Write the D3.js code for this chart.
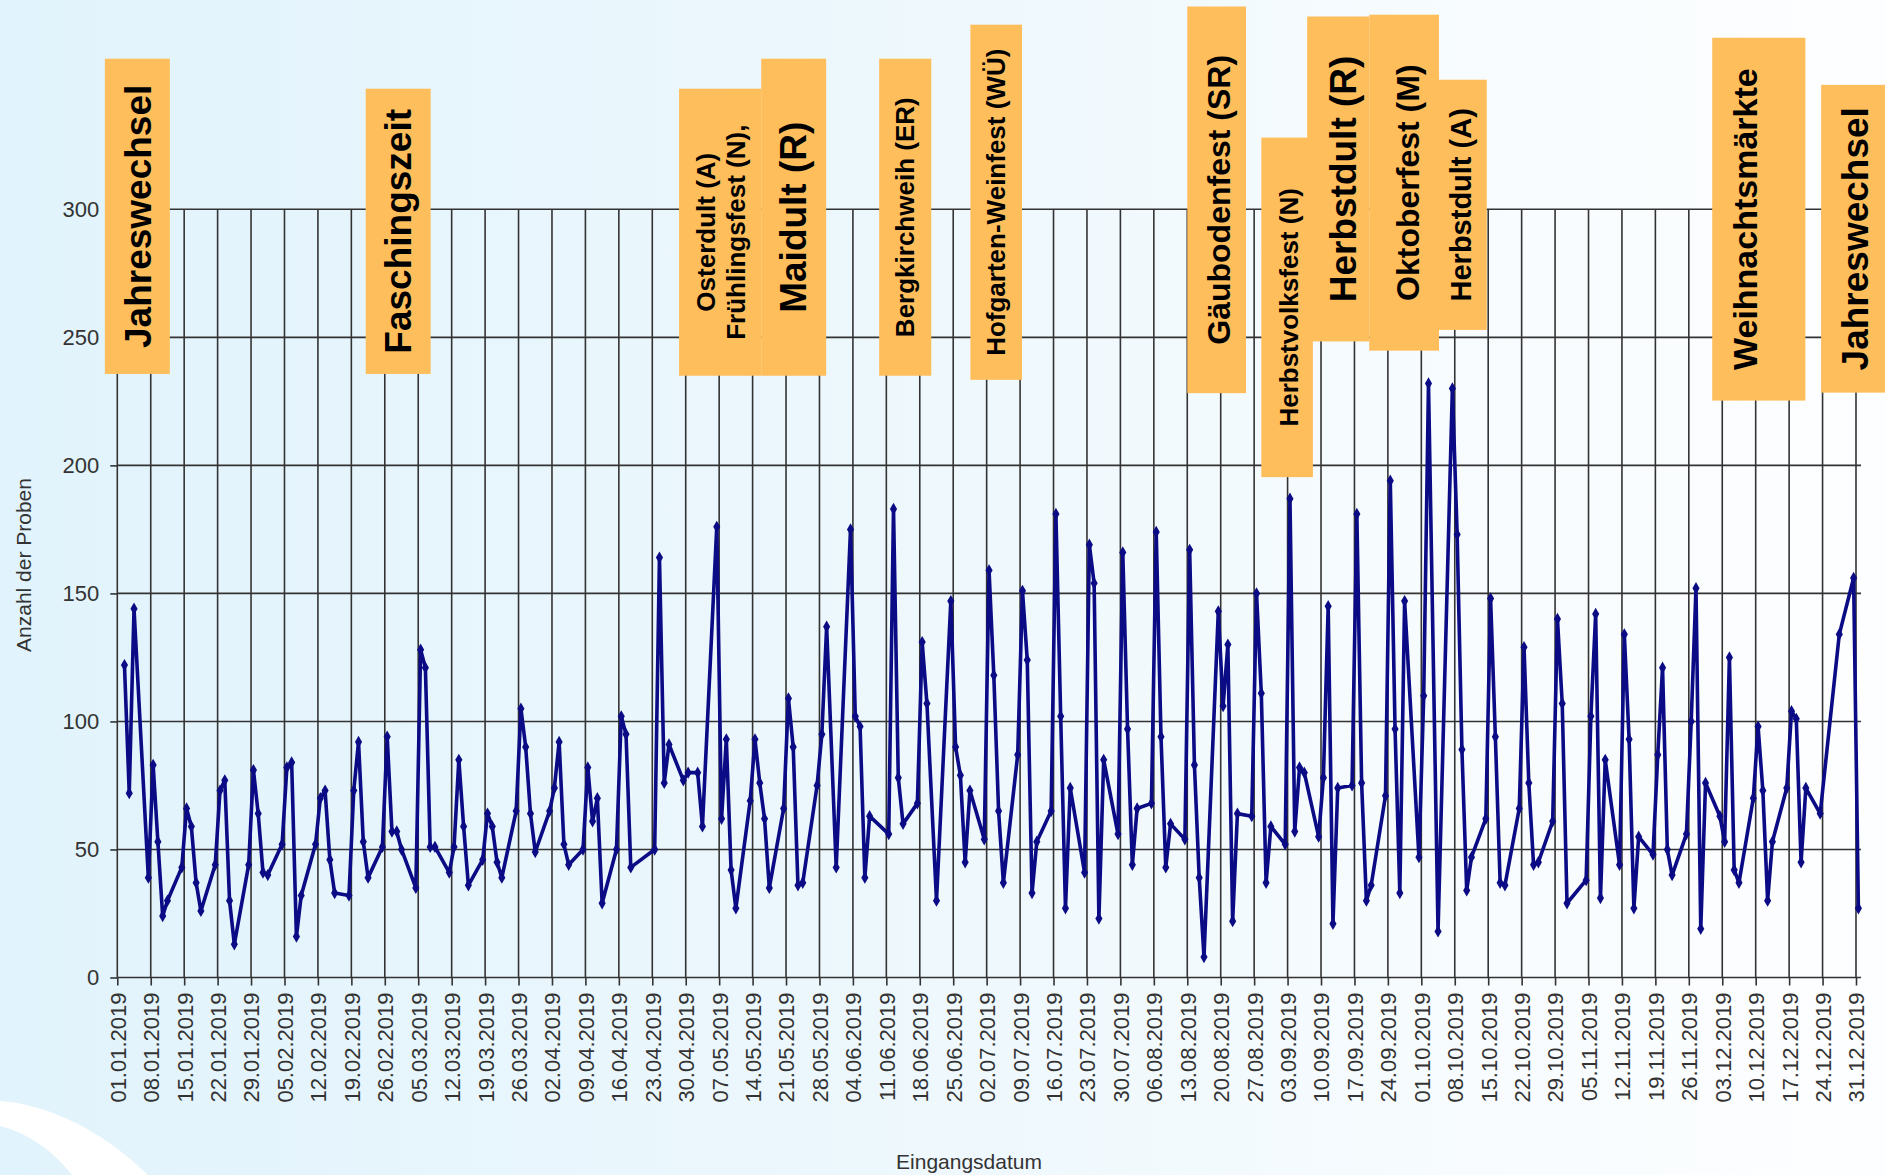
<!DOCTYPE html>
<html><head><meta charset="utf-8">
<script src="https://cdn.jsdelivr.net/npm/d3@7"></script>
<style>body{margin:0;background:#fff;} svg{display:block;}</style>
</head><body>
<svg id="chart" width="1885" height="1175"></svg>
<script>
// ---------- DATA ----------
const yearStart = "2019-01-01";
const yearEnd = "2019-12-31";
// working days without samples (public holidays)
const holidays = ["2019-01-01","2019-04-19","2019-04-22","2019-05-01","2019-05-30","2019-06-10",
  "2019-06-20","2019-10-03","2019-11-01","2019-12-24","2019-12-25","2019-12-26"];
// Anzahl der Proben per working day (week by week)
const counts = [
  122, 72, 144,
  39, 83, 53, 24, 30,
  43, 66, 59, 37, 26,
  44, 73, 77, 30, 13,
  44, 81, 64, 41, 40,
  52, 82, 84, 16, 32,
  52, 70, 73, 46, 33,
  32, 73, 92, 53, 39,
  51, 94, 57, 57, 50,
  35, 128, 121, 51, 51,
  41, 51, 85, 59, 36,
  46, 64, 59, 45, 39,
  65, 105, 90, 64, 49,
  65, 74, 92, 52, 44,
  50, 82, 61, 70, 29,
  50, 102, 95, 43,
  50, 164, 76, 91,
  77, 80, 80, 59,
  176, 62, 93, 42, 27,
  69, 93, 76, 62, 35,
  66, 109, 90, 36, 37,
  75, 95, 137, 43,
  175, 102, 98, 39, 63,
  56, 183, 78, 60,
  68, 131, 107, 30,
  147, 90, 79, 45, 73,
  54, 159, 118, 65, 37,
  87, 151, 124, 33, 53,
  65, 181, 102, 27, 74,
  41, 169, 154, 23, 85,
  56, 166, 97, 44, 66,
  68, 174, 94, 43, 60,
  54, 167, 83, 39, 8,
  143, 106, 130, 22, 64,
  63, 150, 111, 37, 59,
  52, 187, 57, 82, 80,
  55, 78, 145, 21, 74,
  75, 181, 76, 30, 36,
  71, 194, 97, 33, 147,
  47, 110, 232, 18,
  230, 173, 89, 34, 47,
  62, 148, 94, 37, 36,
  66, 129, 76, 44, 45,
  61, 140, 107, 29,
  38, 102, 142, 31, 85,
  44, 134, 93, 27, 55,
  48, 87, 121, 50, 40,
  56, 100, 152, 19, 76,
  63, 53, 125, 42, 37,
  70, 98, 73, 30, 53,
  74, 104, 101, 45, 74,
  64, 134,
  156, 27
];
const yTicks = [0, 50, 100, 150, 200, 250, 300];

// event annotations (extent in days since 01.01.2019 and in sample counts)
const eventLabels = ["Jahreswechsel", "Faschingszeit", "Osterdult (A)\nFrühlingsfest (N),", "Maidult (R)",
  "Bergkirchweih (ER)", "Hofgarten-Weinfest (WÜ)", "Gäubodenfest (SR)", "Herbstvolksfest (N)",
  "Herbstdult (R)", "Oktoberfest (M)", "Herbstdult (A)", "Weihnachtsmärkte", "Jahreswechsel"];
const eventFromDay = [-2.6, 52.0, 117.6, 134.8, 159.5, 178.6, 224.0, 239.5, 249.1, 262.1, 276.7, 333.9, 356.7];
const eventToDay   = [11.0, 65.6, 134.8, 148.4, 170.4, 189.4, 236.3, 250.3, 262.1, 276.7, 286.7, 353.4, 370.1];
const eventTop     = [358.8, 347.1, 347.1, 358.8, 358.8, 372.1, 379.2, 328.0, 375.3, 376.0, 350.6, 367.0, 348.6];
const eventBottom  = [235.7, 235.7, 235.0, 235.0, 235.0, 233.4, 228.2, 195.4, 248.4, 244.8, 252.9, 225.3, 228.4];

// ---------- STYLE ----------
const eventFontSize = [37, 37, 26, 37, 26, 26, 32, 26, 37, 32, 29, 34, 37];
const eventTextShift = [1.5, 0, 0.5, 0, 0, 0, 2.5, 2, 5, 4, -1.5, -13.5, 2];
const FONT = "'Liberation Sans', Arial, Helvetica, sans-serif";

// ---------- BUILD ----------
const parse = d3.timeParse("%Y-%m-%d");
const fmt = d3.timeFormat("%Y-%m-%d");
const start = parse(yearStart), end = parse(yearEnd);
const hol = new Set(holidays);
const workDays = d3.timeDay.range(start, d3.timeDay.offset(end, 1))
  .filter(d => d.getDay() !== 0 && d.getDay() !== 6 && !hol.has(fmt(d)));
const data = workDays.map((d, i) => ({date: d, v: counts[i]}));

const svg = d3.select("#chart");
const W = 1885, H = 1175;

// background
const defs = svg.append("defs");
const g0 = defs.append("linearGradient").attr("id", "bg").attr("x1", 0).attr("x2", 1).attr("y1", 0).attr("y2", 0);
[["0", "#e1f3fc"], ["0.5", "#eef8fd"], ["0.8", "#f8fcfe"], ["1", "#fdfeff"]]
  .forEach(([o, c]) => g0.append("stop").attr("offset", o).attr("stop-color", c));
svg.append("rect").attr("width", W).attr("height", H).attr("fill", "url(#bg)");
svg.append("path")
  .attr("d", "M0,1101 C45,1104 100,1128 148,1175 L72,1175 C52,1150 28,1133 0,1126 Z")
  .attr("fill", "#ffffff");

const x = d3.scaleTime().domain([start, end]).range([117.3, 1856]);
const y = d3.scaleLinear().domain([0, 300]).range([977.5, 209.3]);
const mid = d => d3.timeHour.offset(d, 12);
const dayAt = n => new Date(+start + n * 864e5);

const weeks = d3.timeTuesday.range(start, d3.timeDay.offset(end, 1));

// grid
const grid = svg.append("g").attr("stroke", "#333").attr("stroke-width", 1.6);
grid.selectAll("line.h").data(yTicks).join("line")
  .attr("x1", x(start)).attr("x2", x(end) + 5)
  .attr("y1", d => y(d)).attr("y2", d => y(d));
grid.selectAll("line.v").data(weeks).join("line")
  .attr("x1", d => x(d)).attr("x2", d => x(d))
  .attr("y1", y(0)).attr("y2", y(300));

// axes
const xAxis = svg.append("g").attr("transform", `translate(0,${y(0)})`)
  .call(d3.axisBottom(x).tickValues(weeks).tickFormat(d3.timeFormat("%d.%m.%Y")).tickSize(8));
xAxis.select(".domain").remove();
xAxis.selectAll(".tick line").attr("stroke", "#333").attr("stroke-width", 1.6);
xAxis.selectAll(".tick text")
  .attr("transform", "rotate(-90)").attr("x", -15).attr("y", 0).attr("dy", "0.36em")
  .style("text-anchor", "end").style("font-family", FONT).style("font-size", "22px").attr("fill", "#333");

const yAxis = svg.append("g").attr("transform", `translate(${x(start)},0)`)
  .call(d3.axisLeft(y).tickValues(yTicks).tickSize(7).tickPadding(11));
yAxis.select(".domain").remove();
yAxis.selectAll(".tick line").attr("stroke", "#333").attr("stroke-width", 1.6);
yAxis.selectAll(".tick text").style("font-family", FONT).style("font-size", "22px").attr("fill", "#333");

// titles
svg.append("text").attr("transform", "translate(23,565) rotate(-90)")
  .attr("text-anchor", "middle").attr("dominant-baseline", "central")
  .style("font-family", FONT).style("font-size", "21px").attr("fill", "#333").text("Anzahl der Proben");
svg.append("text").attr("x", 969).attr("y", 1161)
  .attr("text-anchor", "middle").attr("dominant-baseline", "central")
  .style("font-family", FONT).style("font-size", "21px").attr("fill", "#333").text("Eingangsdatum");

// series
const line = d3.line().x(d => x(mid(d.date))).y(d => y(d.v));
svg.append("path").datum(data).attr("d", line)
  .attr("fill", "none").attr("stroke", "#0b0b85").attr("stroke-width", 3.6)
  .attr("stroke-linejoin", "round");
svg.append("g").selectAll("path").data(data).join("path")
  .attr("transform", d => `translate(${x(mid(d.date))},${y(d.v)})`)
  .attr("d", d3.symbol(d3.symbolDiamond, 44)).attr("fill", "#0b0b85");

// event boxes
const ev = eventLabels.map((l, i) => ({label: l, i}));
const eg = svg.append("g").selectAll("g").data(ev).join("g");
eg.append("rect")
  .attr("x", d => x(dayAt(eventFromDay[d.i])))
  .attr("width", d => x(dayAt(eventToDay[d.i])) - x(dayAt(eventFromDay[d.i])))
  .attr("y", d => y(eventTop[d.i]))
  .attr("height", d => y(eventBottom[d.i]) - y(eventTop[d.i]))
  .attr("fill", "#ffbe5c");
eg.each(function(d) {
  const i = d.i;
  const cx = (x(dayAt(eventFromDay[i])) + x(dayAt(eventToDay[i]))) / 2 + eventTextShift[i];
  const cy = (y(eventTop[i]) + y(eventBottom[i])) / 2;
  const lines = d.label.split("\n");
  const fs = eventFontSize[i];
  const step = fs * 1.15;
  lines.forEach((t, k) => {
    const off = (k - (lines.length - 1) / 2) * step;
    d3.select(this).append("text")
      .attr("transform", `translate(${cx + off},${cy}) rotate(-90)`)
      .attr("text-anchor", "middle").attr("dominant-baseline", "central")
      .style("font-family", FONT).style("font-weight", "bold").style("font-size", fs + "px")
      .attr("fill", "#000").text(t);
  });
});
</script>
</body></html>
